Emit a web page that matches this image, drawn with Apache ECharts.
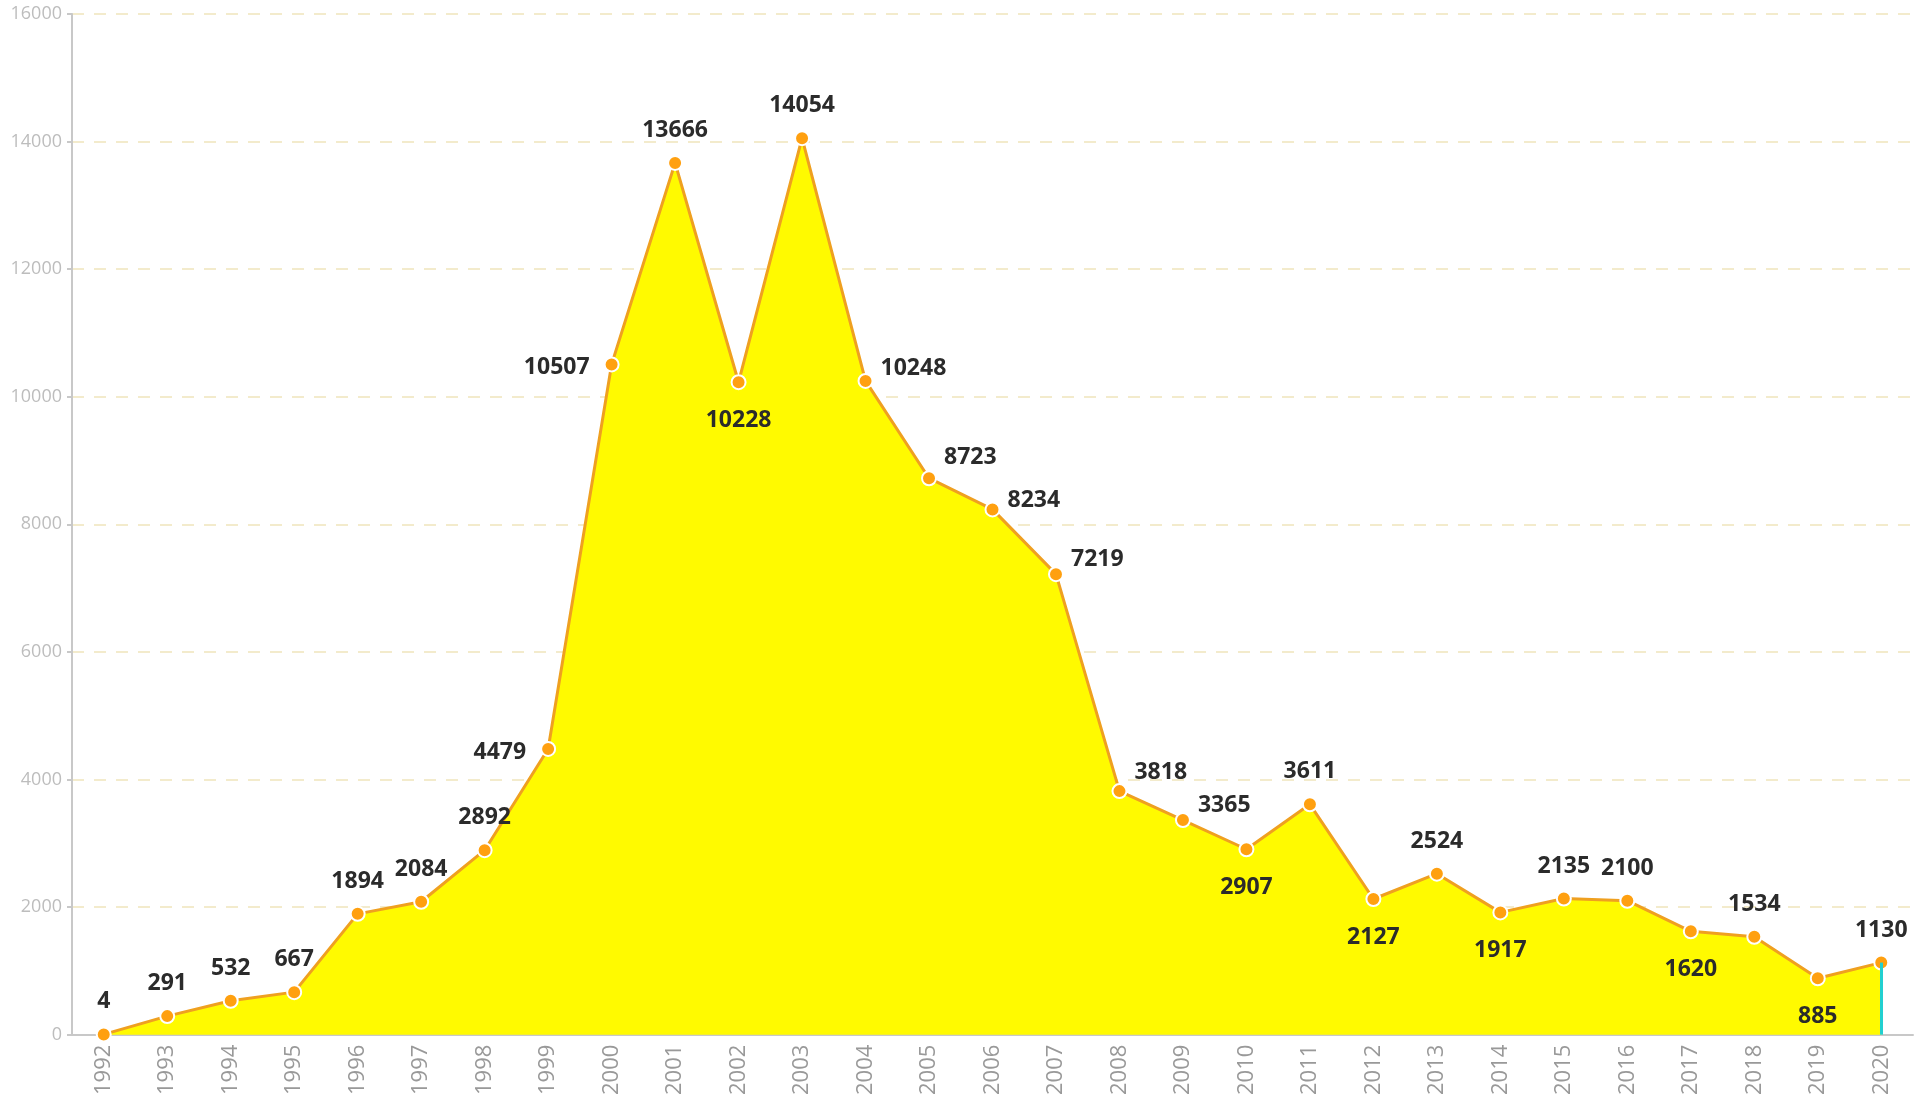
<!DOCTYPE html>
<html>
<head>
<meta charset="utf-8">
<script src="https://cdn.jsdelivr.net/npm/echarts@6/dist/echarts.min.js"></script>
<style>
  html, body { margin: 0; padding: 0; background: #fff; }
  #main { width: 1930px; height: 1098px; }
</style>
</head>
<body>
<div id="main"></div>
<script>
var years = ['1992','1993','1994','1995','1996','1997','1998','1999','2000','2001',
  '2002','2003','2004','2005','2006','2007','2008','2009','2010','2011',
  '2012','2013','2014','2015','2016','2017','2018','2019','2020'];
var values = [4, 291, 532, 667, 1894, 2084, 2892, 4479, 10507, 13666,
  10228, 14054, 10248, 8723, 8234, 7219, 3818, 3365, 2907, 3611,
  2127, 2524, 1917, 2135, 2100, 1620, 1534, 885, 1130];
// where each value label sits relative to its point
var labelPos = ['top','top','top','top','top','top','top','left','left','top',
  'bottom','top','right','right','right','right','right','right','bottom','top',
  'bottom','top','bottom','top','top','bottom','top','bottom','top'];
var yTicks = [0, 2000, 4000, 6000, 8000, 10000, 12000, 14000, 16000];

var rightLift = { '2004': -12, '2005': -21, '2006': -9, '2007': -15, '2008': -19, '2009': -15 };

var seriesData = values.map(function (v, i) {
  var pos = labelPos[i];
  var lab = { position: pos };
  if (pos === 'top') { lab.distance = 13; }
  if (pos === 'bottom') { lab.distance = 19; }
  if (pos === 'left') { lab.distance = 14; lab.offset = [0, 3]; }
  if (pos === 'right') { lab.distance = 7; lab.offset = [0, rightLift[years[i]] || 0]; }
  return { value: v, label: lab };
});

var chart = echarts.init(document.getElementById('main'));
var option = {
  animation: false,
  grid: { left: 72, right: 17, top: 14, bottom: 63 },
  xAxis: {
    type: 'category',
    data: years,
    boundaryGap: true,
    axisLine: { lineStyle: { color: '#c8c8c8', width: 2 } },
    axisTick: { lineStyle: { color: '#c8c8c8', width: 2 }, length: 6 },
    axisLabel: {
      rotate: 90,
      color: '#999',
      fontSize: 22,
      fontFamily: 'Open Sans',
      margin: 10
    }
  },
  yAxis: {
    type: 'value',
    min: yTicks[0],
    max: yTicks[yTicks.length - 1],
    interval: 2000,
    axisLine: { show: true, lineStyle: { color: '#c8c8c8', width: 2 } },
    axisTick: { show: true, lineStyle: { color: '#c8c8c8', width: 2 }, length: 5 },
    axisLabel: {
      color: '#bdbdbd', fontSize: 18, fontFamily: 'Open Sans', margin: 10,
      formatter: function (v) { return String(v); }
    },
    splitLine: { lineStyle: { color: '#f3ebcc', type: [12, 10], width: 2 } }
  },
  series: [{
    type: 'line',
    data: seriesData,
    symbol: 'circle',
    symbolSize: 14,
    showAllSymbol: true,
    itemStyle: { color: '#ffa010', borderColor: '#fff', borderWidth: 2 },
    lineStyle: { color: '#efa020', width: 3 },
    areaStyle: { color: '#fffa00', opacity: 1 },
    label: {
      show: true,
      color: '#2b2b2b',
      fontSize: 23,
      fontWeight: 'bold',
      fontFamily: 'Open Sans'
    },
    markLine: {
      silent: true,
      symbol: 'none',
      label: { show: false },
      lineStyle: { color: '#22d0d0', width: 3, type: 'solid' },
      data: [[
        { coord: [years[years.length - 1], values[values.length - 1]] },
        { coord: [years[years.length - 1], 0] }
      ]]
    }
  }]
};
chart.setOption(option);
</script>
</body>
</html>
